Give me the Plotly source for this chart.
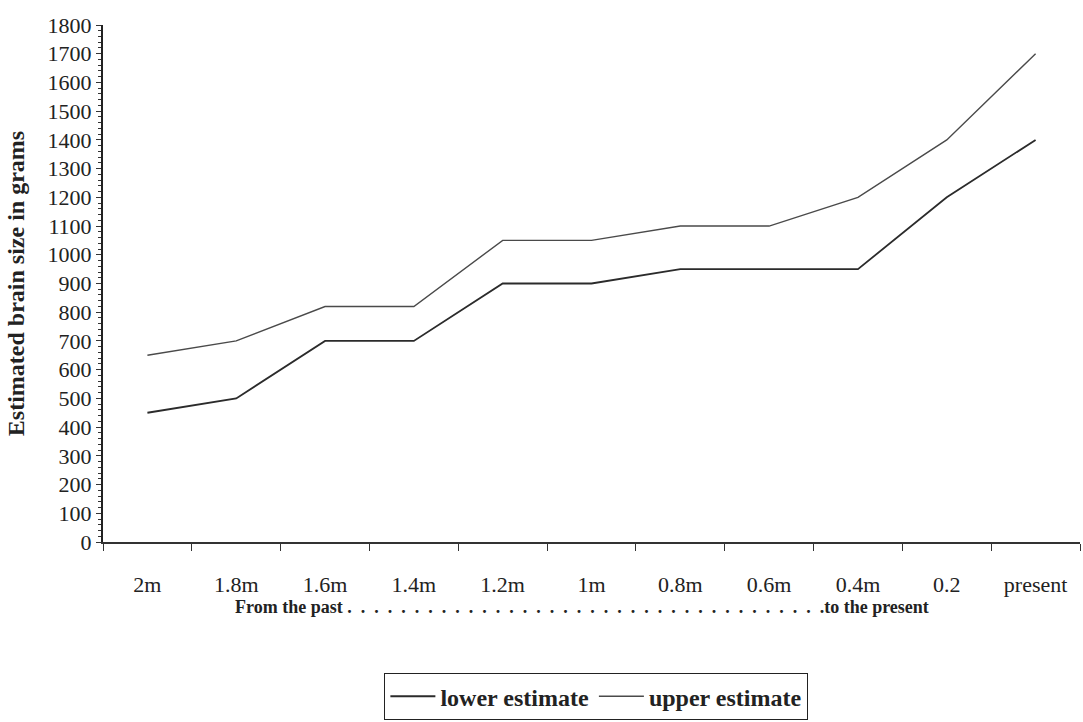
import plotly.graph_objects as go

categories = ["2m", "1.8m", "1.6m", "1.4m", "1.2m", "1m", "0.8m", "0.6m", "0.4m", "0.2", "present"]
lower_estimate = [450, 500, 700, 700, 900, 900, 950, 950, 950, 1200, 1400]
upper_estimate = [650, 700, 820, 820, 1050, 1050, 1100, 1100, 1200, 1400, 1700]
y_ticks = list(range(0, 1801, 100))

FONT = "Liberation Serif"
INK = "#222"

fig = go.Figure()
fig.add_trace(go.Scatter(x=categories, y=lower_estimate, mode="lines", name="<b>lower estimate</b>",
                         line=dict(color="#2b2b2b", width=1.8)))
fig.add_trace(go.Scatter(x=categories, y=upper_estimate, mode="lines", name="<b>upper estimate</b>",
                         line=dict(color="#4a4a4a", width=1.4)))

fig.update_layout(
    width=1083, height=722,
    margin=dict(l=103, r=3, t=25, b=179),
    paper_bgcolor="white", plot_bgcolor="white",
    font=dict(family=FONT, color=INK),
    showlegend=True,
    legend=dict(orientation="h", x=0.505, xanchor="center", y=-0.342, yanchor="bottom",
                bordercolor=INK, borderwidth=1, font=dict(family=FONT, size=24, color=INK),
                itemwidth=45, tracegroupgap=0),
)
fig.update_xaxes(
    type="category", tickson="boundaries", ticks="outside", ticklen=7, tickcolor="#333",
    showline=True, linecolor="#333", linewidth=1.5, showgrid=False, zeroline=False,
    tickfont=dict(family=FONT, size=22, color=INK), ticklabelstandoff=22,
    range=[-0.5, 10.5], automargin=False,
)
fig.update_yaxes(
    range=[0, 1800], tickvals=y_ticks, ticks="outside", ticklen=5, tickcolor="#333",
    showline=True, linecolor=INK, linewidth=2, showgrid=False, zeroline=False,
    tickfont=dict(family=FONT, size=22, color=INK), automargin=False,
    minor=dict(dtick=20, ticks="outside", ticklen=3, tickcolor="#333"),
    title=dict(text="<b>Estimated brain size in grams</b>", font=dict(family=FONT, size=24, color=INK),
               standoff=16),
)
dots = "&#8194;".join(["."] * 36)
fig.add_annotation(
    text="<b>From the past " + dots + "to the present</b>",
    xref="paper", yref="paper", x=0.49, y=-0.1255, xanchor="center", yanchor="middle",
    showarrow=False, font=dict(family=FONT, size=18, color=INK),
)
fig.write_html("out.html", config={"displayModeBar": False},
               post_script="document.body.style.margin='0';")
